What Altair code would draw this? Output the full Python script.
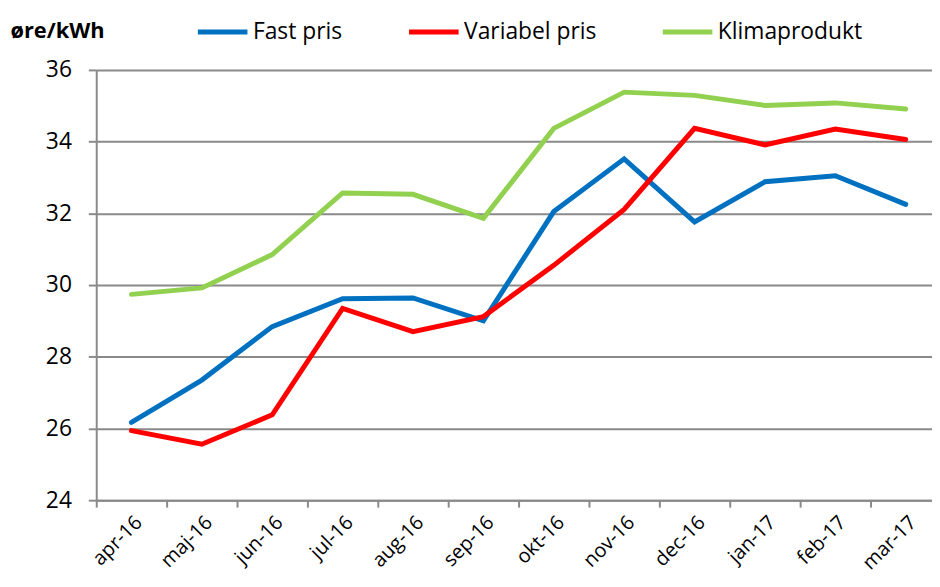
import altair as alt
import pandas as pd

months = ["apr-16", "maj-16", "jun-16", "jul-16", "aug-16", "sep-16",
          "okt-16", "nov-16", "dec-16", "jan-17", "feb-17", "mar-17"]
fast_pris = [26.17, 27.35, 28.84, 29.62, 29.64, 29.00,
             32.05, 33.52, 31.76, 32.88, 33.05, 32.25]
variabel_pris = [25.94, 25.56, 26.38, 29.35, 28.70, 29.12,
                 30.55, 32.11, 34.37, 33.91, 34.35, 34.06]
klimaprodukt = [29.74, 29.92, 30.85, 32.57, 32.53, 31.86,
                34.37, 35.38, 35.29, 35.01, 35.08, 34.91]
series_names = ["Fast pris", "Variabel pris", "Klimaprodukt"]
series_colors = ["#0070C0", "#FF0000", "#92D050"]
y_ticks = [24, 26, 28, 30, 32, 34, 36]

rows = []
for name, vals in zip(series_names, [fast_pris, variabel_pris, klimaprodukt]):
    for m, v in zip(months, vals):
        rows.append({"month": m, "value": v, "series": name})
df = pd.DataFrame(rows)

FONT = "Open Sans"
GRAY = "#8a8a8a"

chart = alt.Chart(df).mark_line(strokeWidth=5, strokeCap="round").encode(
    x=alt.X(
        "month:N",
        sort=months,
        bandPosition=0.5,
        scale=alt.Scale(type="band", range=[0, 852], paddingInner=0, paddingOuter=0),
        axis=alt.Axis(
            title=None,
            labelAngle=-45,
            tickBand="extent",
            tickSize=7,
            tickWidth=2,
            tickColor=GRAY,
            domainColor=GRAY,
            domainWidth=2,
            labelFont=FONT,
            labelFontSize=20,
            labelColor="#000000",
            labelPadding=5,
            grid=False,
        ),
    ),
    y=alt.Y(
        "value:Q",
        scale=alt.Scale(domain=[24, 36], nice=False, zero=False),
        axis=alt.Axis(
            values=y_ticks,
            title="øre/kWh",
            titleAngle=0,
            titleAlign="left",
            titleBaseline="middle",
            titleX=-87,
            titleY=-40,
            titleFont=FONT,
            titleFontSize=22,
            titleFontWeight="bold",
            titleColor="#000000",
            labelFont=FONT,
            labelFontSize=23,
            labelColor="#000000",
            labelPadding=17,
            tickSize=8,
            tickWidth=2,
            tickColor=GRAY,
            domainColor=GRAY,
            domainWidth=2,
            grid=True,
            gridColor=GRAY,
            gridWidth=2,
        ),
    ),
    color=alt.Color(
        "series:N",
        sort=series_names,
        scale=alt.Scale(domain=series_names, range=series_colors),
        legend=alt.Legend(
            title=None,
            orient="none",
            direction="horizontal",
            legendX=100,
            legendY=-66,
            symbolType="stroke",
            symbolSize=2500,
            symbolStrokeWidth=5,
            labelFont=FONT,
            labelFontSize=23,
            labelColor="#000000",
            labelOffset=3,
            columnPadding=56,
        ),
    ),
).properties(
    width=843,
    height=434,
    autosize=alt.AutoSizeParams(type="none"),
    padding={"left": 89, "top": 60, "right": 0, "bottom": 72},
).configure_view(stroke=None)

chart.save("out.html", embed_options={"renderer": "svg", "actions": False})
